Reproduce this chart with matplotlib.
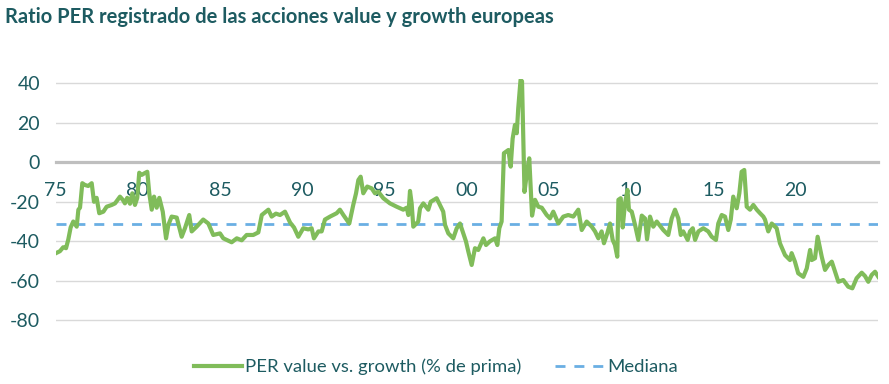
import matplotlib.pyplot as plt

# PER value vs. growth (% de prima)
years = [
    1975.03, 1975.27, 1975.47, 1975.64, 1975.78, 1975.92, 1976.08, 1976.29, 1976.39, 1976.49,
    1976.63, 1976.79, 1976.99, 1977.20, 1977.34, 1977.50, 1977.66, 1977.91, 1978.11, 1978.42,
    1978.62, 1978.92, 1979.09, 1979.22, 1979.36, 1979.53, 1979.67, 1979.83, 1979.97, 1980.09,
    1980.24, 1980.40, 1980.58, 1980.70, 1980.85, 1980.99, 1981.15, 1981.31, 1981.52, 1981.72,
    1981.86, 1982.06, 1982.37, 1982.67, 1982.87, 1983.13, 1983.28, 1983.58, 1983.98, 1984.29,
    1984.59, 1985.00, 1985.20, 1985.71, 1986.02, 1986.32, 1986.62, 1987.02, 1987.33, 1987.54,
    1987.94, 1988.14, 1988.40, 1988.65, 1988.95, 1989.26, 1989.50, 1989.76, 1990.06, 1990.37,
    1990.57, 1990.71, 1990.98, 1991.18, 1991.38, 1991.69, 1992.09, 1992.29, 1992.50, 1992.86,
    1993.10, 1993.27, 1993.41, 1993.55, 1993.71, 1993.95, 1994.22, 1994.42, 1994.62, 1994.93,
    1995.33, 1995.74, 1996.14, 1996.35, 1996.45, 1996.55, 1996.65, 1996.75, 1997.05, 1997.16,
    1997.36, 1997.66, 1997.81, 1998.17, 1998.37, 1998.57, 1998.68, 1998.88, 1999.18, 1999.39,
    1999.59, 1999.75, 1999.95, 2000.09, 2000.30, 2000.50, 2000.70, 2001.01, 2001.17, 2001.41,
    2001.72, 2001.86, 2001.98, 2002.12, 2002.26, 2002.53, 2002.67, 2002.79, 2002.93, 2003.04,
    2003.13, 2003.27, 2003.36, 2003.51, 2003.68, 2003.80, 2003.97, 2004.15, 2004.35, 2004.56,
    2004.86, 2005.06, 2005.26, 2005.57, 2005.87, 2006.17, 2006.48, 2006.78, 2006.99, 2007.29,
    2007.60, 2007.80, 2008.00, 2008.20, 2008.34, 2008.54, 2008.71, 2008.87, 2009.01, 2009.15,
    2009.22, 2009.36, 2009.48, 2009.62, 2009.77, 2009.86, 2010.03, 2010.23, 2010.43, 2010.64,
    2010.84, 2010.96, 2011.14, 2011.34, 2011.55, 2011.95, 2012.25, 2012.46, 2012.66, 2012.86,
    2013.01, 2013.16, 2013.43, 2013.57, 2013.74, 2013.88, 2014.08, 2014.38, 2014.68, 2014.89,
    2015.15, 2015.29, 2015.50, 2015.70, 2015.90, 2016.05, 2016.20, 2016.41, 2016.57, 2016.71,
    2016.87, 2017.02, 2017.22, 2017.42, 2017.63, 2017.83, 2018.03, 2018.13, 2018.33, 2018.54,
    2018.84, 2019.04, 2019.35, 2019.65, 2019.75, 2019.95, 2020.15, 2020.46, 2020.67, 2020.87,
    2020.97, 2021.17, 2021.33, 2021.58, 2021.78, 2021.98, 2022.19, 2022.39, 2022.59, 2022.89,
    2023.19, 2023.44, 2023.70, 2024.01, 2024.21, 2024.41, 2024.62, 2024.82, 2025.02,
]
per_premium = [
    -46.0, -45.0, -43.0, -43.5, -39.0, -33.0, -30.0, -32.6, -24.0, -23.0,
    -10.6, -11.5, -12.0, -10.6, -20.0, -18.0, -25.8, -25.0, -22.5, -21.6,
    -20.8, -17.4, -19.0, -20.8, -18.0, -21.0, -15.7, -21.6, -18.0, -5.3,
    -6.4, -5.6, -4.8, -15.7, -24.0, -17.4, -23.0, -18.0, -25.0, -38.5,
    -31.7, -27.5, -28.0, -37.7, -33.4, -26.7, -35.0, -32.6, -29.0, -31.0,
    -36.8, -36.0, -38.5, -40.5, -38.5, -39.5, -36.8, -36.8, -35.5, -26.7,
    -24.0, -27.5, -26.0, -26.7, -25.0, -30.5, -33.0, -37.7, -33.4, -34.0,
    -33.4, -38.5, -35.0, -35.0, -29.0, -27.5, -25.8, -24.0, -26.7, -31.0,
    -21.6, -15.7, -9.0, -7.3, -15.7, -12.3, -13.2, -15.7, -14.9, -18.2,
    -20.8, -22.5, -24.0, -23.0, -26.7, -14.5, -20.8, -32.6, -30.0, -23.3,
    -20.8, -24.0, -20.0, -18.2, -21.6, -25.0, -31.7, -36.0, -38.5, -33.4,
    -31.0, -35.0, -40.0, -45.0, -52.0, -43.5, -44.4, -38.5, -41.9, -40.0,
    -38.5, -41.9, -33.4, -30.0, 4.6, 6.2, -2.2, 12.0, 18.9, 14.7,
    27.3, 41.7, 41.0, -15.0, -3.9, 2.0, -27.0, -19.0, -22.5, -23.0,
    -26.7, -28.4, -25.0, -31.0, -27.5, -26.7, -27.5, -24.0, -34.3, -30.0,
    -32.6, -35.0, -38.5, -35.0, -41.0, -36.0, -31.0, -39.3, -41.9, -47.8,
    -19.0, -18.2, -33.0, -20.8, -14.0, -24.0, -25.0, -31.7, -39.3, -27.0,
    -28.5, -39.0, -27.5, -32.6, -30.0, -34.3, -36.8, -28.4, -24.0, -28.4,
    -36.8, -35.0, -39.3, -35.0, -33.4, -39.3, -35.0, -33.4, -35.0, -37.7,
    -39.3, -31.0, -26.7, -27.5, -34.3, -29.0, -17.4, -23.3, -15.7, -4.8,
    -3.9, -22.5, -24.0, -21.6, -24.0, -25.8, -27.5, -29.0, -35.0, -31.0,
    -33.4, -41.0, -47.0, -49.5, -46.0, -50.3, -56.2, -58.0, -53.7, -44.4,
    -49.5, -48.6, -37.7, -47.8, -54.5, -52.0, -50.3, -55.4, -60.5, -59.6,
    -63.0, -63.8, -58.7, -55.9, -57.6, -60.5, -57.0, -55.4, -58.0,
]
median_value = -31

x_ticks = [1975, 1980, 1985, 1990, 1995, 2000, 2005, 2010, 2015, 2020]
x_labels = ['75', '80', '85', '90', '95', '00', '05', '10', '15', '20']
y_ticks = [-80, -60, -40, -20, 0, 20, 40]

title = 'Ratio PER registrado de las acciones value y growth europeas'
teal = '#1d5b61'
green = '#80bc5a'
blue = '#6aafe3'

plt.rcParams['font.family'] = ['Lato', 'DejaVu Sans']
plt.rcParams['axes.unicode_minus'] = False

fig = plt.figure(figsize=(8.89, 3.84), dpi=100)
ax = fig.add_axes([55.5 / 889, 0.1247, (878 - 55.5) / 889, 0.6688])

ax.plot(years, per_premium, color=green, lw=3.0, solid_joinstyle='round', zorder=3,
        label='PER value vs. growth (% de prima)')
ax.axhline(median_value, color=blue, lw=2.0, dashes=(3.6, 3.2), zorder=2, label='Mediana')

ax.set_xlim(1975, 2025)
ax.set_ylim(-88, 42)
ax.set_yticks(y_ticks)
ax.set_xticks(x_ticks)
ax.set_xticklabels(x_labels)

for v in y_ticks:
    if v != 0:
        ax.axhline(v, color='#d9d9d9', lw=1.0, zorder=1)

for s in ['top', 'right', 'left']:
    ax.spines[s].set_visible(False)
ax.spines['bottom'].set_position(('data', 0))
ax.spines['bottom'].set_color('#bfbfbf')
ax.spines['bottom'].set_linewidth(2.3)
ax.spines['bottom'].set_zorder(1.5)

ax.tick_params(axis='x', length=0, pad=14, labelsize=14, labelcolor=teal)
ax.tick_params(axis='y', length=0, pad=11, labelsize=14, labelcolor=teal)

fig.text(0.006, 0.955, title, fontsize=14.5, fontweight='bold', color=teal,
         ha='left', va='center')

leg = fig.legend(loc='center', bbox_to_anchor=(0.49, 0.045), ncol=2, frameon=False,
                 fontsize=13.3, handlelength=2.6, columnspacing=1.8, handletextpad=0.2)
for t in leg.get_texts():
    t.set_color(teal)

fig.savefig('out.png', dpi=100)
